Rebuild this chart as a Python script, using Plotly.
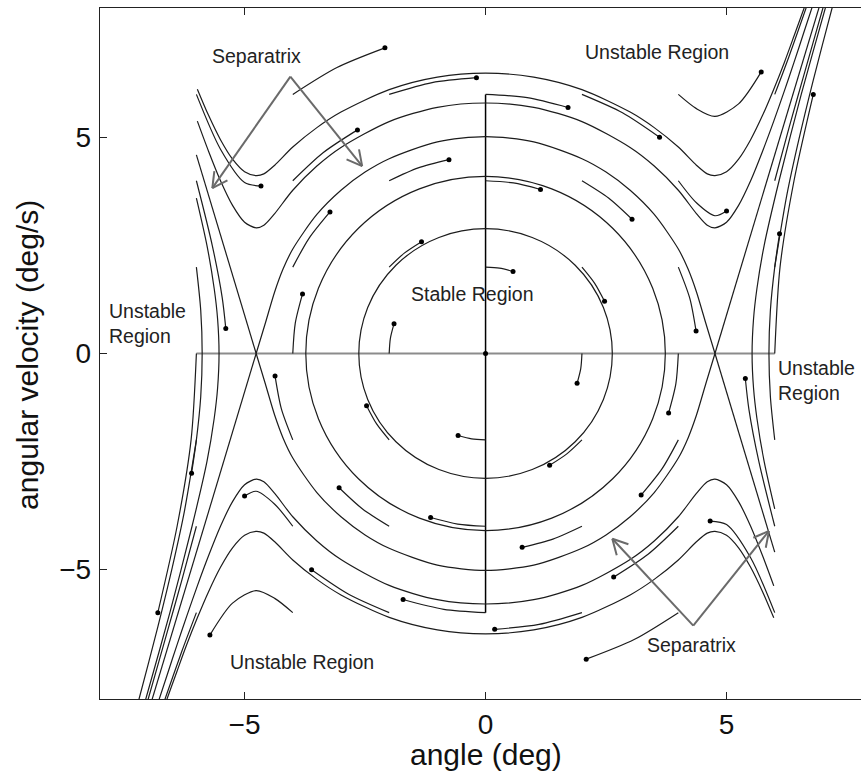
import math
import plotly.graph_objects as go

# ---------------- axes ----------------
X_RANGE = [-8, 7.79]
Y_RANGE = [-8, 8]
X_TICKS = [-5, 0, 5]
Y_TICKS = [-5, 0, 5]

# ---------------- closed orbits (semi-axes) ----------------
ORBIT_RX = [2.63, 3.73]
ORBIT_RY = [2.89, 4.10]

# ---------------- separatrix loop ----------------
SEP_UP_X = [-4.76, -4.57, -4.375, -4.2, -4.0, -3.5, -3.0, -2.5, -2.0, -1.0, 0.0,
            1.0, 2.0, 2.5, 3.0, 3.5, 4.0, 4.2, 4.375, 4.57, 4.76]
SEP_UP_Y = [0.0, 0.70, 1.43, 1.96, 2.42, 3.22, 3.78, 4.20, 4.51, 4.90, 5.02,
            4.90, 4.51, 4.20, 3.78, 3.22, 2.42, 1.96, 1.43, 0.70, 0.0]
SEP_LO_X = [-4.76, -4.57, -4.375, -4.2, -4.0, -3.5, -3.0, -2.5, -2.0, -1.0, 0.0,
            1.0, 2.0, 2.5, 3.0, 3.5, 4.0, 4.2, 4.375, 4.57, 4.76]
SEP_LO_Y = [0.0, -0.70, -1.43, -1.96, -2.42, -3.22, -3.78, -4.20, -4.51, -4.90, -5.02,
            -4.90, -4.51, -4.20, -3.78, -3.22, -2.42, -1.96, -1.43, -0.70, 0.0]
SEP_BRANCH_X = [[-6.0, -4.76], [4.76, 7.0], [-4.76, -7.0], [6.0, 4.76]]
SEP_BRANCH_Y = [[4.60, 0.0], [0.0, 8.31], [0.0, -8.31], [-4.60, 0.0]]

# ---------------- trajectories passing over the saddles ----------------
OT1_UP_X = [-5.98, -5.75, -5.5, -5.25, -5.0, -4.76, -4.6, -4.375, -4.0, -3.5, -3.0, -2.0, -1.0, 0.0,
            1.0, 2.0, 3.0, 3.5, 4.0, 4.375, 4.6, 4.76, 5.0, 5.25, 5.5, 5.75, 5.98, 6.2, 6.4, 6.61, 6.8]
OT1_UP_Y = [6.12, 5.52, 4.95, 4.50, 4.21, 4.12, 4.16, 4.36, 4.78, 5.23, 5.59, 6.11, 6.40, 6.49,
            6.40, 6.11, 5.59, 5.23, 4.78, 4.36, 4.16, 4.12, 4.21, 4.50, 4.95, 5.52, 6.12, 6.74, 7.35, 8.0, 8.61]
OT1_LO_X = [5.98, 5.75, 5.5, 5.25, 5.0, 4.76, 4.6, 4.375, 4.0, 3.5, 3.0, 2.0, 1.0, 0.0,
            -1.0, -2.0, -3.0, -3.5, -4.0, -4.375, -4.6, -4.76, -5.0, -5.25, -5.5, -5.75, -5.98, -6.2, -6.4, -6.61, -6.8]
OT1_LO_Y = [-6.12, -5.52, -4.95, -4.50, -4.21, -4.12, -4.16, -4.36, -4.78, -5.23, -5.59, -6.11, -6.40, -6.49,
            -6.40, -6.11, -5.59, -5.23, -4.78, -4.36, -4.16, -4.12, -4.21, -4.50, -4.95, -5.52, -6.12, -6.74, -7.35, -8.0, -8.61]

OT2_UP_X = [-5.98, -5.75, -5.5, -5.25, -5.0, -4.76, -4.6, -4.375, -4.0, -3.5, -3.0, -2.0, -1.0, 0.0,
            1.0, 2.0, 3.0, 3.5, 4.0, 4.375, 4.6, 4.76, 5.0, 5.25, 5.5, 5.75, 5.98, 6.2, 6.4, 6.6, 6.8]
OT2_UP_Y = [5.38, 4.69, 4.00, 3.43, 3.04, 2.91, 2.97, 3.24, 3.78, 4.34, 4.77, 5.37, 5.70, 5.80,
            5.70, 5.37, 4.77, 4.34, 3.78, 3.24, 2.97, 2.91, 3.04, 3.43, 4.00, 4.69, 5.38, 6.08, 6.74, 7.42, 8.10]
OT2_LO_X = [5.98, 5.75, 5.5, 5.25, 5.0, 4.76, 4.6, 4.375, 4.0, 3.5, 3.0, 2.0, 1.0, 0.0,
            -1.0, -2.0, -3.0, -3.5, -4.0, -4.375, -4.6, -4.76, -5.0, -5.25, -5.5, -5.75, -5.98, -6.2, -6.4, -6.6, -6.8]
OT2_LO_Y = [-5.38, -4.69, -4.00, -3.43, -3.04, -2.91, -2.97, -3.24, -3.78, -4.34, -4.77, -5.37, -5.70, -5.80,
            -5.70, -5.37, -4.77, -4.34, -3.78, -3.24, -2.97, -2.91, -3.04, -3.43, -4.00, -4.69, -5.38, -6.08, -6.74, -7.42, -8.10]

# ---------------- outer trajectories turning back ----------------
ARC_L_X = [-6.0, -5.78, -5.63, -5.56, -5.53, -5.56, -5.63, -5.78, -6.09, -6.55, -7.05, -7.2]
ARC_L_Y = [3.6, 2.5, 1.5, 0.8, 0.0, -0.8, -1.5, -2.5, -4.0, -6.0, -8.0, -8.6]
ARC_R_X = [6.0, 5.78, 5.63, 5.56, 5.53, 5.56, 5.63, 5.78, 6.09, 6.55, 7.05, 7.2]
ARC_R_Y = [-3.6, -2.5, -1.5, -0.8, 0.0, 0.8, 1.5, 2.5, 4.0, 6.0, 8.0, 8.6]

# ---------------- short flow segments (end marked with a dot) ----------------
SEG_X = [
    [-6, -5.5, -5.0, -4.66], [-4, -3.083, -2.088], [-2, -1.109, -0.189], [0, 0.866, 1.711],
    [2, 2.841, 3.610], [4, 4.375, 4.76, 5.25, 5.72], [6, 6.3, 6.65, 7.0],
    [-6, -5.67, -5.465, -5.39], [-4, -3.372, -2.658], [-2, -1.397, -0.759], [0, 0.578, 1.140],
    [2, 2.552, 3.039], [4, 4.375, 4.76, 5.0], [6, 6.3, 6.6, 7.0, 7.2],
    [-6, -5.91, -5.88, -5.91, -6.0, -6.10], [-4, -3.660, -3.228], [-2, -1.686, -1.329], [0, 0.289, 0.570],
    [2, 2.264, 2.469], [4, 4.238, 4.368], [6, 6.25, 6.5, 6.8, 7.19, 7.4],
    [-6, -6.11, -6.40, -6.80], [-4, -3.949, -3.798], [-2, -1.975, -1.899], [0],
    [2, 1.975, 1.899], [4, 3.949, 3.798], [6, 6.11, 6.40, 6.80],
    [-6, -6.25, -6.5, -6.8, -7.19, -7.4], [-4, -4.238, -4.368], [-2, -2.264, -2.469], [0, -0.289, -0.570],
    [2, 1.686, 1.329], [4, 3.660, 3.228], [6, 5.91, 5.88, 5.91, 6.0, 6.10],
    [-6, -6.3, -6.6, -7.0, -7.2], [-4, -4.375, -4.76, -5.0], [-2, -2.552, -3.039], [0, -0.578, -1.140],
    [2, 1.397, 0.759], [4, 3.372, 2.658], [6, 5.67, 5.465, 5.39],
    [-6, -6.3, -6.65, -7.0], [-4, -4.375, -4.76, -5.25, -5.72], [-2, -2.841, -3.610], [0, -0.866, -1.711],
    [2, 1.109, 0.189], [4, 3.083, 2.088], [6, 5.5, 5.0, 4.66],
]
SEG_Y = [
    [6, 4.73, 3.96, 3.88], [6, 6.622, 7.077], [6, 6.273, 6.387], [6, 5.924, 5.697],
    [6, 5.574, 5.007], [6, 5.67, 5.49, 5.78, 6.52], [6, 6.89, 8.0, 9.15],
    [4, 2.5, 1.3, 0.58], [4, 4.648, 5.178], [4, 4.298, 4.488], [4, 3.949, 3.798],
    [4, 3.60, 3.108], [4, 3.49, 3.19, 3.30], [4, 5.24, 6.43, 8.0, 8.76],
    [2, 1, 0, -1, -2, -2.77], [2, 2.673, 3.279], [2, 2.324, 2.589], [2, 1.975, 1.899],
    [2, 1.625, 1.209], [2, 1.276, 0.519], [2, 3.66, 4.95, 6.33, 8.0, 8.87],
    [0, -2, -4, -6], [0, 0.699, 1.380], [0, 0.349, 0.690], [0],
    [0, -0.349, -0.690], [0, -0.699, -1.380], [0, 2, 4, 6],
    [-2, -3.66, -4.95, -6.33, -8.0, -8.87], [-2, -1.276, -0.519], [-2, -1.625, -1.209], [-2, -1.975, -1.899],
    [-2, -2.324, -2.589], [-2, -2.673, -3.279], [-2, -1, 0, 1, 2, 2.77],
    [-4, -5.24, -6.43, -8.0, -8.76], [-4, -3.49, -3.19, -3.30], [-4, -3.60, -3.108], [-4, -3.949, -3.798],
    [-4, -4.298, -4.488], [-4, -4.648, -5.178], [-4, -2.5, -1.3, -0.58],
    [-6, -6.89, -8.0, -9.15], [-6, -5.67, -5.49, -5.78, -6.52], [-6, -5.574, -5.007], [-6, -5.924, -5.697],
    [-6, -6.273, -6.387], [-6, -6.622, -7.077], [-6, -4.73, -3.96, -3.88],
]

# ---------------- reference lines ----------------
HLINE_X = [-6, 6]
HLINE_Y = [0, 0]
VLINE_X = [0, 0]
VLINE_Y = [-6, 6]

# ---------------- labels ----------------
LABEL_TEXT = ["Separatrix", "Separatrix", "Unstable Region", "Unstable Region",
              "Stable Region", "Unstable<br>Region", "Unstable<br>Region"]
LABEL_X = [-4.75, 4.27, 3.55, -3.80, -0.27, -7.86, 6.02]
LABEL_Y = [6.88, -6.76, 6.98, -7.15, 1.38, 0.70, -0.62]
LABEL_ANCHOR = ["center", "center", "center", "center", "center", "left", "left"]

ARROW_TAIL_X = [-4.05, -4.05, 4.31, 4.31]
ARROW_TAIL_Y = [6.41, 6.41, -6.30, -6.30]
ARROW_HEAD_X = [-5.67, -2.56, 2.63, 5.88]
ARROW_HEAD_Y = [3.83, 4.34, -4.29, -4.11]

# ---------------- figure ----------------
W, H = 861, 773
ML, MR, MT, MB = 100, 0, 8, 74
PX_X = (W - ML - MR) / (X_RANGE[1] - X_RANGE[0])
PX_Y = (H - MT - MB) / (Y_RANGE[1] - Y_RANGE[0])

CURVE = dict(color="#1c1c1c", width=1.2)
FONT = "Liberation Sans, Arial, sans-serif"

fig = go.Figure()

fig.add_trace(go.Scatter(x=HLINE_X, y=HLINE_Y, mode="lines",
                         line=dict(color="#8c8c8c", width=2.2), hoverinfo="skip"))
fig.add_trace(go.Scatter(x=VLINE_X, y=VLINE_Y, mode="lines",
                         line=dict(color="#000000", width=1.5), hoverinfo="skip"))

for xs, ys in [(SEP_UP_X, SEP_UP_Y), (SEP_LO_X, SEP_LO_Y),
               (OT1_UP_X, OT1_UP_Y), (OT1_LO_X, OT1_LO_Y),
               (OT2_UP_X, OT2_UP_Y), (OT2_LO_X, OT2_LO_Y),
               (ARC_L_X, ARC_L_Y), (ARC_R_X, ARC_R_Y)]:
    fig.add_trace(go.Scatter(x=xs, y=ys, mode="lines", line=dict(shape="spline", smoothing=0.8, **CURVE),
                             hoverinfo="skip"))

for xs, ys in zip(SEP_BRANCH_X, SEP_BRANCH_Y):
    fig.add_trace(go.Scatter(x=xs, y=ys, mode="lines", line=CURVE, hoverinfo="skip"))

for xs, ys in zip(SEG_X, SEG_Y):
    fig.add_trace(go.Scatter(x=xs, y=ys, mode="lines", line=dict(shape="spline", smoothing=0.8, **CURVE),
                             hoverinfo="skip"))

dot_x = [xs[-1] for xs in SEG_X]
dot_y = [ys[-1] for ys in SEG_Y]
fig.add_trace(go.Scatter(x=dot_x, y=dot_y, mode="markers",
                         marker=dict(color="#000000", size=5), hoverinfo="skip"))

shapes = []
for rx, ry in zip(ORBIT_RX, ORBIT_RY):
    shapes.append(dict(type="circle", xref="x", yref="y", x0=-rx, x1=rx, y0=-ry, y1=ry,
                       line=CURVE, layer="above"))

ARROW_LINE = dict(color="#6a6a6a", width=2)
for tx, ty, hx, hy in zip(ARROW_TAIL_X, ARROW_TAIL_Y, ARROW_HEAD_X, ARROW_HEAD_Y):
    shapes.append(dict(type="line", xref="x", yref="y", x0=tx, y0=ty, x1=hx, y1=hy, line=ARROW_LINE))
    dx = (hx - tx) * PX_X
    dy = (hy - ty) * PX_Y
    ang = math.atan2(dy, dx)
    for s in (1, -1):
        a = ang + math.pi + s * math.radians(28)
        ex = hx + 17 * math.cos(a) / PX_X
        ey = hy + 17 * math.sin(a) / PX_Y
        shapes.append(dict(type="line", xref="x", yref="y", x0=hx, y0=hy, x1=ex, y1=ey, line=ARROW_LINE))

annotations = []
for t, x, y, anc in zip(LABEL_TEXT, LABEL_X, LABEL_Y, LABEL_ANCHOR):
    annotations.append(dict(text=t, x=x, y=y, xref="x", yref="y", showarrow=False,
                            xanchor=anc, yanchor="middle", align="left",
                            font=dict(family=FONT, size=19.5, color="#222222")))

annotations.append(dict(text="angle (deg)", x=0.507, y=0, xref="paper", yref="paper",
                        showarrow=False, xanchor="center", yanchor="middle", yshift=-55,
                        font=dict(family=FONT, size=30, color="#111111")))
annotations.append(dict(text="angular velocity (deg/s)", x=0, y=0.498, xref="paper", yref="paper",
                        showarrow=False, xanchor="center", yanchor="middle", xshift=-72, textangle=-90,
                        font=dict(family=FONT, size=30, color="#111111")))

axis_common = dict(showgrid=False, zeroline=False, ticks="inside", ticklen=7, tickwidth=1.2,
                   tickcolor="#222222", showline=True, linecolor="#222222", linewidth=1.3,
                   tickfont=dict(family=FONT, size=28, color="#111111"))

fig.update_layout(
    width=W, height=H,
    margin=dict(l=ML, r=MR, t=MT, b=MB),
    paper_bgcolor="white", plot_bgcolor="white",
    showlegend=False,
    shapes=shapes,
    annotations=annotations,
    xaxis=dict(range=X_RANGE, tickvals=X_TICKS, mirror="ticks", ticklabelstandoff=0, **axis_common),
    yaxis=dict(range=Y_RANGE, tickvals=Y_TICKS, mirror=False, ticklabelstandoff=2, **axis_common),
)

fig.write_html("out.html",
               config={"displayModeBar": False, "staticPlot": True},
               post_script="document.body.style.margin='0';document.body.style.padding='0';"
                           "document.documentElement.style.overflow='hidden';")
